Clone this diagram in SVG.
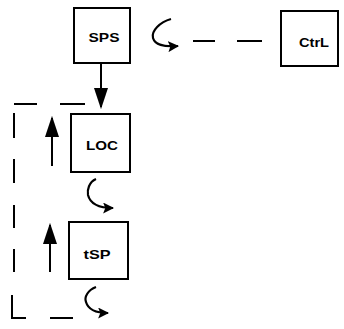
<svg xmlns="http://www.w3.org/2000/svg" width="344" height="329" viewBox="0 0 344 329">
<style>
.box{fill:#fff;stroke:#000;stroke-width:2}
.lbl{font-family:"Liberation Sans",Arial,sans-serif;font-weight:bold;font-size:13px;text-anchor:middle;fill:#000}
.ln{stroke:#000;stroke-width:2;fill:none}
.curl{stroke:#000;stroke-width:2.2;fill:none;marker-end:url(#ah)}
</style>
<defs>
<marker id="ah" viewBox="0 0 10 10" refX="9" refY="5" markerWidth="11" markerHeight="11" orient="auto" markerUnits="userSpaceOnUse">
<path d="M0,0 L10,5 L0,10 L2,5 z" fill="#000"/>
</marker>
<marker id="ahv" viewBox="0 0 10 10" refX="9" refY="5" markerWidth="21" markerHeight="14" orient="auto" markerUnits="userSpaceOnUse" preserveAspectRatio="none">
<path d="M0,0 L10,5 L0,10 z" fill="#000"/>
</marker>
</defs>
<g id="SPS"><rect class="box" x="74" y="8" width="56" height="55"/><text class="lbl" x="104" y="42" textLength="31" lengthAdjust="spacingAndGlyphs">SPS</text></g>
<g id="Ctrl"><rect class="box" x="281" y="11" width="57" height="55"/><text class="lbl" x="314" y="47" textLength="30" lengthAdjust="spacingAndGlyphs">CtrL</text></g>
<g id="LOC"><rect class="box" x="71" y="114" width="59" height="58"/><text class="lbl" x="102" y="150" textLength="32" lengthAdjust="spacingAndGlyphs">LOC</text></g>
<g id="tSP"><rect class="box" x="69" y="222" width="59" height="57"/><text class="lbl" x="97" y="259" textLength="27" lengthAdjust="spacingAndGlyphs">tSP</text></g>
<g id="connectors">
<line class="ln" x1="101" y1="63" x2="101" y2="107" marker-end="url(#ahv)"/>
<line class="ln" x1="52" y1="166" x2="52" y2="118" marker-end="url(#ahv)"/>
<line class="ln" x1="50" y1="272" x2="50" y2="225" marker-end="url(#ahv)"/>
<path class="curl" d="M171,19 C160,22 151,31 153,38 C155,45 163,47 178,46"/>
<path class="curl" d="M96,179 C89,182 87,190 88,195 C90,203 98,208 113,208"/>
<path class="curl" d="M96,287 C88,290 84,297 86,302 C88,309 96,313 108,313"/>
<line class="ln" x1="193" y1="41" x2="215" y2="41"/>
<line class="ln" x1="237" y1="41" x2="262" y2="41"/>
<path class="ln" d="M14,104 H37 M60,104 H85 M14,113 V138 M14,159 V183 M14,205 V228 M14,249 V272 M12,295 V318 H26 M50,318 H73"/>
</g>
</svg>
